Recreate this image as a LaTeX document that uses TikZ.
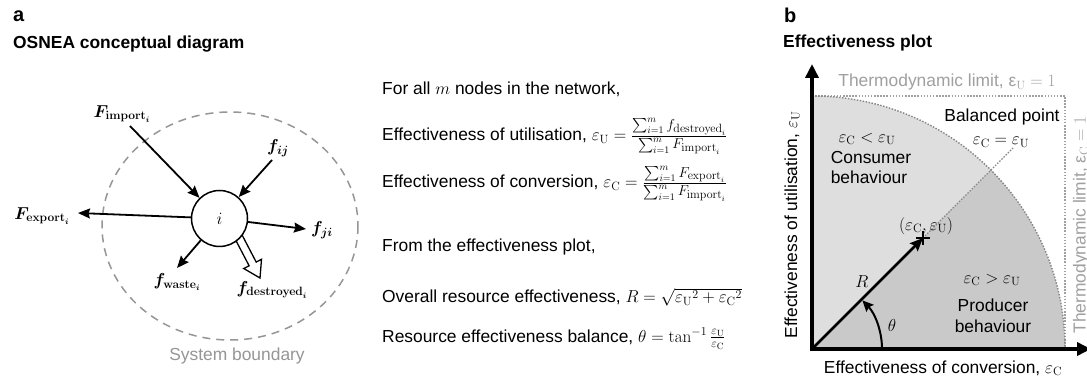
\documentclass[tikz,border=0pt]{standalone}
\usepackage[no-math]{fontspec}
\setmainfont{Liberation Sans}
\usepackage{amsmath,bm}
\usetikzlibrary{arrows.meta,calc}
\definecolor{lightfill}{RGB}{222,222,222}
\definecolor{darkfill}{RGB}{201,201,201}
\definecolor{limgray}{RGB}{160,160,160}
\definecolor{dotgray}{RGB}{135,135,135}
\definecolor{bndgray}{RGB}{150,150,150}
\newcommand{\fsum}[2]{\mbox{\fontsize{14}{16}\selectfont$\sum_{i=1}^{m} #1_{\mbox{\fontsize{12}{14}\selectfont$\mathrm{#2}_i$}}$}}
\tikzset{
  txt/.style={font=\fontsize{17.4}{20}\selectfont, inner sep=0pt},
  basetxt/.style={txt, anchor=base west},
  headlbl/.style={font=\fontsize{20}{24}\selectfont\bfseries, inner sep=0pt, anchor=base west},
  titlelbl/.style={font=\fontsize{17.4}{20}\selectfont\bfseries, inner sep=0pt, anchor=base west},
  flowlbl/.style={font=\fontsize{16.5}{19}\selectfont, inner sep=0pt},
  flow/.style={line width=1.8pt, -{Stealth[length=12pt,width=10pt,inset=1.5pt]}},
  boundary/.style={bndgray, line width=1.5pt, dash pattern=on 8pt off 6pt},
  limline/.style={limgray, line width=1.3pt, dash pattern=on 1.5pt off 1.6pt},
  dotline/.style={dotgray, line width=1.4pt, dash pattern=on 1.5pt off 1.5pt},
  axisline/.style={line width=3.5pt, line join=miter, {Triangle[length=14pt,width=13pt]}-{Triangle[length=14pt,width=13pt]}},
  graytxt/.style={txt, text=limgray}
}
\begin{document}
\begin{tikzpicture}[x=1pt,y=-1pt]
\useasboundingbox[fill=white] (0,0) rectangle (1087,379);

% ---------------- panel a ----------------
\node[headlbl] (la) at (13,22) {a};
\node[titlelbl] (ta) at (13,49) {OSNEA conceptual diagram};

\draw[boundary] (230,226) ellipse [x radius=128, y radius=114];
\node[txt, text=bndgray] (sysb) at (237,356) {System boundary};

% hollow arrow (destroyed)
\coordinate (dS) at (236,232);
\coordinate (dT) at (260,278);
\coordinate (dB) at ($(dS)!36pt!(dT)$);
\draw[line width=1.3pt, fill=white]
  ($(dS)!4pt!90:(dT)$) -- ($(dB)!4pt!90:(dT)$) -- ($(dB)!10pt!90:(dT)$) -- (dT)
  -- ($(dB)!10pt!-90:(dT)$) -- ($(dB)!4pt!-90:(dT)$) -- ($(dS)!4pt!-90:(dT)$) -- cycle;

\node[circle, draw, line width=1.5pt, fill=white, minimum size=56pt, inner sep=0pt,
      font=\fontsize{17}{20}\selectfont] (n) at (219.5,218.5) {$i$};

\coordinate (impS) at (130,126);
\coordinate (ijS) at (272,160);
\coordinate (expE) at (78,213);
\coordinate (jiE) at (306,229);
\coordinate (wasteE) at (177,268);
\draw[flow] (impS) -- (n);
\draw[flow] (ijS) -- (n);
\draw[flow] (n) -- (expE);
\draw[flow] (n) -- (jiE);
\draw[flow] (n) -- (wasteE);

\node[flowlbl] (Fimp) at (122,114) {$\bm{F}_{\mathbf{import}_{\bm{i}}}$};
\node[flowlbl] (fij) at (278,148) {$\bm{f}_{\bm{ij}}$};
\node[flowlbl] (Fexp) at (42,216) {$\bm{F}_{\mathbf{export}_{\bm{i}}}$};
\node[flowlbl] (fji) at (322,230) {$\bm{f}_{\bm{ji}}$};
\node[flowlbl] (fwaste) at (177,282) {$\bm{f}_{\mathbf{waste}_{\bm{i}}}$};
\node[flowlbl] (fdes) at (272,290) {$\bm{f}_{\mathbf{destroyed}_{\bm{i}}}$};

% formulas
\node[basetxt] (t1) at (382,95) {For all $m$ nodes in the network,};
\node[basetxt] (t2) at (382,141) {Effectiveness of utilisation, $\varepsilon_{\mathrm{U}} = \frac{\fsum{f}{destroyed}}{\fsum{F}{import}}$};
\node[basetxt] (t3) at (382,188) {Effectiveness of conversion, $\varepsilon_{\mathrm{C}} = \frac{\fsum{F}{export}}{\fsum{F}{import}}$};
\node[basetxt] (t4) at (382,252) {From the effectiveness plot,};
\node[basetxt] (t5) at (382,303) {Overall resource effectiveness, $R = \sqrt{{\varepsilon_{\mathrm{U}}}^2 + {\varepsilon_{\mathrm{C}}}^2}$};
\node[basetxt] (t6) at (382,342) {Resource effectiveness balance, $\theta = \tan^{-1}\frac{\varepsilon_{\mathrm{U}}}{\varepsilon_{\mathrm{C}}}$};

% ---------------- panel b ----------------
\node[headlbl] (lb) at (784,23) {b};
\node[titlelbl] (tb) at (783,48) {Effectiveness plot};

\coordinate (O) at (812,349);
\begin{scope}[shift={(O)}, y=1pt]
  \fill[lightfill] (0,0) -- (0,253) arc[start angle=90, end angle=45, radius=253] -- cycle;
  \fill[darkfill] (0,0) -- (253,0) arc[start angle=0, end angle=45, radius=253] -- cycle;
  \coordinate (bTL) at (0,253);
  \coordinate (bTR) at (253,253);
  \coordinate (bBR) at (253,0);
  \draw[limline] (bTL) -- (bTR) -- (bBR);
  \draw[dotline] (bTL) arc[start angle=90, end angle=0, radius=253];
  \coordinate (P) at (111,111);
  \coordinate (Dend) at (201,201);
  \draw[dotline] (P) -- (Dend);
  \draw[line width=1.6pt] ($(P)+(-7,0)$) -- ($(P)+(7,0)$) ($(P)+(0,-7)$) -- ($(P)+(0,7)$);
  \draw[line width=2.6pt, -{Stealth[length=13pt,width=11pt,inset=2pt]}] (0,0) -- (P);
  \coordinate (thS) at (70,0);
  \draw[line width=2pt, -{Stealth[length=11pt,width=10pt,inset=1.5pt]}] (thS) arc[start angle=0, end angle=44, radius=70];
  \coordinate (yTip) at (0,285);
  \coordinate (xTip) at (279,0);
  \draw[axisline] (yTip) -- (0,0) -- (xTip);
\end{scope}

\node[graytxt] (toplim) at (947,82) {Thermodynamic limit, ε$_{\mathrm{U}} = 1$};
\node[graytxt, rotate=90] (rightlim) at (1081,225) {Thermodynamic limit, ε$_{\mathrm{C}} = 1$};
\node[txt] (bal) at (1002,117) {Balanced point};
\node[txt] (baleq) at (1001,142) {$\varepsilon_{\mathrm{C}} = \varepsilon_{\mathrm{U}}$};
\node[txt] (cons1) at (867,139) {$\varepsilon_{\mathrm{C}} < \varepsilon_{\mathrm{U}}$};
\node[txt] (cons2) at (871,158) {Consumer};
\node[txt] (cons3) at (869,177) {behaviour};
\node[txt] (pt) at (926,226) {$(\varepsilon_{\mathrm{C}}, \varepsilon_{\mathrm{U}})$};
\node[txt] (Rl) at (862,282) {$R$};
\node[txt] (thl) at (892,325) {$\theta$};
\node[txt] (prod1) at (992,280) {$\varepsilon_{\mathrm{C}} > \varepsilon_{\mathrm{U}}$};
\node[txt] (prod2) at (993,305) {Producer};
\node[txt] (prod3) at (993,326) {behaviour};
\node[txt] (xlab) at (943,368) {Effectiveness of conversion, $\varepsilon_{\mathrm{C}}$};
\node[txt, rotate=90] (ylab) at (792,225) {Effectiveness of utilisation, $\varepsilon_{\mathrm{U}}$};
\end{tikzpicture}
\end{document}
